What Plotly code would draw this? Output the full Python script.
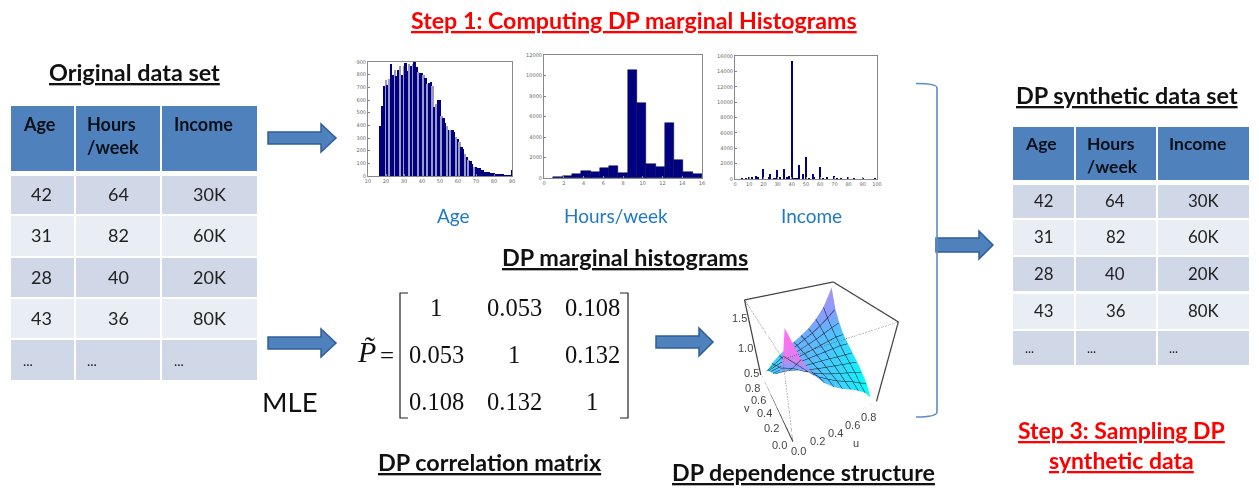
import plotly.graph_objects as go

W, H = 1259, 489

# ---- data ----
age_x = list(range(17, 91))
age_y = [395,550,710,755,720,765,885,800,840,790,835,870,800,865,895,830,885,870,885,900,
         860,825,810,815,800,775,725,735,740,710,545,570,600,600,475,460,415,395,360,365,
         365,345,310,295,265,230,210,170,150,130,115,95,75,70,65,65,50,45,35,30,
         30,25,22,22,18,14,10,8,8,5,4,3,3,45]
age_gap = [20,22,25,28,30,33,35,38,41,43,46,48,51,54,56,59,61,64,66,69]

hours_x = [1.43,2.37,3.31,4.25,5.19,6.13,7.07,8.01,8.95,9.89,10.83,11.77,12.71,13.65,14.59,15.53]
hours_y = [60,150,350,680,540,980,1180,450,10500,7300,1380,1080,5350,1750,600,430]

income_x = [5,8,10,12,15,16,20,24,25,28,30,32,35,37,38,40,42,43,44,45,48,50,52,55,56,60,62,65,70,72,75,80,84,90,99]
income_y = [60,130,280,150,350,200,1300,200,650,80,1150,300,1350,250,450,15300,100,120,130,1850,600,2800,130,680,150,1500,80,300,350,50,60,170,40,50,40]

table_header = ["<b>Age</b>", "<b>Hours<br>/week</b>", "<b>Income</b>"]
table_rows = [["42","64","30K"],["31","82","60K"],["28","40","20K"],["43","36","80K"],["...","...","..."]]

matrix = [["1","0.053","0.108"],["0.053","1","0.132"],["0.108","0.132","1"]]

surf_u = [0.05,0.15,0.25,0.35,0.45,0.55,0.65,0.75,0.85,0.95]
surf_v = [0.05,0.15,0.25,0.35,0.45,0.55,0.65,0.75,0.85,0.95]
surf_z = [
 [2.00,1.62,1.36,1.18,1.05,0.95,0.87,0.78,0.67,0.50],
 [1.62,1.46,1.30,1.16,1.06,0.97,0.90,0.83,0.74,0.67],
 [1.36,1.30,1.20,1.11,1.04,0.98,0.93,0.88,0.83,0.78],
 [1.18,1.16,1.11,1.06,1.02,0.99,0.96,0.93,0.90,0.87],
 [1.05,1.06,1.04,1.02,1.01,1.00,0.99,0.97,0.96,0.95],
 [0.95,0.97,0.98,0.99,1.00,1.01,1.02,1.03,1.04,1.03],
 [0.87,0.90,0.93,0.96,0.99,1.02,1.05,1.08,1.11,1.12],
 [0.78,0.83,0.88,0.93,0.98,1.03,1.08,1.14,1.20,1.25],
 [0.67,0.74,0.83,0.90,0.97,1.04,1.11,1.20,1.30,1.42],
 [0.50,0.67,0.78,0.87,0.95,1.03,1.12,1.25,1.42,1.70]]
surf_c = [
 [1.00,0.98,0.55,0.36,0.28,0.22,0.18,0.12,0.05,0.00],
 [0.98,0.70,0.42,0.34,0.28,0.24,0.20,0.14,0.08,0.03],
 [0.55,0.42,0.38,0.34,0.30,0.26,0.22,0.16,0.10,0.05],
 [0.35,0.36,0.36,0.36,0.32,0.28,0.24,0.20,0.14,0.10],
 [0.30,0.34,0.36,0.36,0.34,0.30,0.28,0.24,0.20,0.16],
 [0.28,0.32,0.36,0.38,0.36,0.34,0.32,0.28,0.24,0.20],
 [0.25,0.30,0.36,0.38,0.38,0.36,0.34,0.32,0.30,0.28],
 [0.20,0.28,0.34,0.38,0.40,0.38,0.36,0.36,0.38,0.40],
 [0.15,0.22,0.30,0.36,0.40,0.42,0.42,0.44,0.50,0.55],
 [0.10,0.18,0.26,0.34,0.40,0.44,0.46,0.52,0.62,0.72]]

# ---- style ----
SANS = "Lato, 'Open Sans', sans-serif"
SERIF = "'Liberation Serif', serif"
HEAD, ODD, EVEN = "#4F81BD", "#D0D8E8", "#E9EDF4"
NAVY = "#000080"
GAP = "#9A9AC4"
ARROW, ARROW_EDGE = "#4F81BD", "#2F5F97"

def px(x): return x / W
def py(y): return 1 - y / H

fig = go.Figure()
shapes, annos = [], []

def txt(x, y, s, size, color="#111", family=SANS, **kw):
    annos.append(dict(x=px(x), y=py(y - 1), xref="paper", yref="paper", text=s, showarrow=False,
                      font=dict(size=size, color=color, family=family), xanchor=kw.pop("xanchor","center"),
                      yanchor=kw.pop("yanchor","middle"), **kw))

def rect(x0, y0, x1, y1, fill):
    shapes.append(dict(type="rect", xref="paper", yref="paper", x0=px(x0), x1=px(x1), y0=py(y1), y1=py(y0),
                       fillcolor=fill, line=dict(width=0), layer="below"))

def table(col_edges, head_y, row_edges, head_text_x, head_text_top, cell_x, hsize, csize):
    for c, (a, b) in enumerate(col_edges):
        rect(a, head_y[0], b, head_y[1], HEAD)
        txt(head_text_x[c], head_text_top, table_header[c], hsize, "#0a1018", xanchor="left", align="left", yanchor="top")
        for r, (t, bt) in enumerate(row_edges):
            rect(a, t, b, bt, ODD if r % 2 == 0 else EVEN)
            s = table_rows[r][c]
            if s == "...":
                txt(head_text_x[c], (t + bt) / 2 + 1, s, csize - 4, "#222", xanchor="left")
            else:
                txt(cell_x[c], (t + bt) / 2, s, csize, "#222")

table([(11,74),(76,160),(162,257)], (106,171),
      [(176,214),(216,256),(258,297),(299,338),(340,380)],
      [21,85,172], 112, [42,118,209], 18, 18)
table([(1013,1074),(1076,1156),(1158,1249)], (127,180),
      [(185,218),(220,255),(257,291),(294,329),(331,365)],
      [1023,1085,1167], 132, [1043,1115,1203], 17.5, 16.8)

def arrow(x0, x1, xh, yc, hb, hh):
    path = (f"M {px(x0)} {py(yc-hb)} L {px(xh)} {py(yc-hb)} L {px(xh)} {py(yc-hh)} L {px(x1)} {py(yc)} "
            f"L {px(xh)} {py(yc+hh)} L {px(xh)} {py(yc+hb)} L {px(x0)} {py(yc+hb)} Z")
    shapes.append(dict(type="path", xref="paper", yref="paper", path=path, fillcolor=ARROW,
                       line=dict(color=ARROW_EDGE, width=1.5)))

arrow(268, 336, 321, 138, 6, 14)
arrow(268, 336, 321, 343, 6, 14)
arrow(656, 713, 699, 342, 6, 14)
arrow(936, 993, 979, 245, 7, 14)

# brace
shapes.append(dict(type="path", xref="paper", yref="paper",
    path=(f"M {px(916)} {py(83.5)} Q {px(937)} {py(83.5)} {px(937)} {py(88)} L {px(937)} {py(412)} "
          f"Q {px(937)} {py(417)} {px(916)} {py(417)}"),
    line=dict(color="#5B8EC9", width=1.6)))

# titles
U = lambda s: f"<b><u>{s}</u></b>"
txt(634, 21, U("Step 1: Computing DP marginal Histograms"), 23.2, "#FF0000")
txt(134, 73, U("Original data set"), 23.4, "#111")
txt(1127, 96, U("DP synthetic data set"), 23.4, "#111")
txt(625, 258, U("DP marginal histograms"), 23.4, "#111")
txt(490, 463, U("DP correlation matrix"), 23.4, "#111")
txt(803, 473, U("DP dependence structure"), 23.2, "#111")
txt(1121, 431, U("Step 3: Sampling DP"), 23, "#FF0000")
txt(1121, 461, U("synthetic data"), 23, "#FF0000")
txt(290, 402, "MLE", 27.5, "#111")
for x, s in [(453,"Age"),(616,"Hours/week"),(811,"Income")]:
    txt(x, 216, s, 19, "#1F78C8")

# matrix
mx = [436, 514, 592]
my = [308, 355, 402]
for r in range(3):
    for c in range(3):
        txt(mx[c], my[r], matrix[r][c], 24.5, "#111", SERIF)
txt(366, 352, "<i>P\u0303</i>", 30, "#111", SERIF)
txt(387, 356, "=", 25, "#111", SERIF)
for xo, xt in [(400, 408), (628, 620)]:
    shapes.append(dict(type="path", xref="paper", yref="paper",
        path=f"M {px(xt)} {py(293)} L {px(xo)} {py(293)} L {px(xo)} {py(418)} L {px(xt)} {py(418)}",
        line=dict(color="#222", width=1.2)))

# histograms
HIST_FONT = dict(size=5, color="#666", family="'DejaVu Sans', sans-serif")
def hist_axes(n, box, xr, xt, yr, yt):
    l, t, r, b = box
    common = dict(showgrid=False, zeroline=False, showline=True, mirror=True, linecolor="#888", linewidth=1,
                  ticks="inside", ticklen=2, tickcolor="#888", tickfont=HIST_FONT, tickformat="d")
    ax = dict(anchor=f"y{n}", domain=[px(l), px(r)], range=xr, tickvals=xt, **common)
    ay = dict(anchor=f"x{n}", domain=[py(b), py(t)], range=yr, tickvals=yt, **common)
    return ax, ay

layout_axes = {}
for n, box, xr, xt, yr, yt in [
    (1, (368,62,512,176), [10,90], list(range(10,91,10)), [0,900], list(range(0,901,100))),
    (2, (544,55,702,178), [0,16], list(range(0,17,2)), [0,12000], list(range(0,12001,2000))),
    (3, (735,56,877,179), [0,100], list(range(0,101,10)), [0,16000], list(range(0,16001,2000)))]:
    ax, ay = hist_axes(n, box, xr, xt, yr, yt)
    layout_axes[f"xaxis{n if n>1 else ''}"] = ax
    layout_axes[f"yaxis{n if n>1 else ''}"] = ay

fig.add_bar(x=age_x, y=age_y, xaxis="x", yaxis="y", width=1.0,
            marker=dict(color=[GAP if a in age_gap else NAVY for a in age_x], line=dict(width=0)))
fig.add_bar(x=hours_x, y=hours_y, xaxis="x2", yaxis="y2", width=0.94, marker=dict(color=NAVY, line=dict(width=0.5, color="#000040")))
fig.add_bar(x=income_x, y=income_y, xaxis="x3", yaxis="y3", width=1.1, marker=dict(color=NAVY, line=dict(width=0)))

# 3D surface
fig.add_surface(x=surf_u, y=surf_v, z=surf_z, surfacecolor=surf_c, cmin=0, cmax=1, showscale=False, scene="scene",
    colorscale=[[0,"#00FFFF"],[0.5,"#80A0FF"],[0.75,"#B090F0"],[1,"#FF70F0"]],
    lighting=dict(ambient=1, diffuse=0, specular=0, fresnel=0),
    contours=dict(x=dict(show=True, start=0.05, end=0.95, size=0.1, color="#111", width=1),
                  y=dict(show=True, start=0.05, end=0.95, size=0.1, color="#111", width=1)))
Z0, Z1, ZMAX = 0.45, 1.75, 2.05
ZL = 0.47
solid_u = [0,1,1,1,0,0,0,1]
solid_v = [1,1,0,0,0,1,1,1]
solid_z = [Z1,Z1,Z1,Z0,Z0,Z0,Z1,Z1]
dot_u = [0,0,1,None,0,0]
dot_v = [1,0,0,None,0,0]
dot_z = [Z1,Z1,Z1,None,Z1,Z0]
fig.add_scatter3d(x=solid_u, y=solid_v, z=solid_z, mode="lines", line=dict(color="#444", width=2.5), scene="scene", showlegend=False)
fig.add_scatter3d(x=dot_u, y=dot_v, z=dot_z, mode="lines", line=dict(color="#555", width=1.5, dash="dot"), scene="scene", showlegend=False)

def s_anno(x, y, z, s, dx, dy):
    return dict(x=x, y=y, z=z, text=s, showarrow=False, xshift=dx, yshift=dy,
                font=dict(size=11, color="#444", family="Liberation Sans, sans-serif"))
s_annos = []
for t in ["0.0","0.2","0.4","0.6","0.8"]:
    s_annos.append(s_anno(float(t), 0, ZL, t, 6, -10))
    s_annos.append(s_anno(0, float(t), ZL, t, -13, -4))
for t in ["0.5","1.0","1.5"]:
    s_annos.append(s_anno(0, 1, float(t), t, -9, 0))
s_annos.append(s_anno(0.5, 0, ZL, "u", 18, -24))
s_annos.append(s_anno(0, 0.5, ZL, "v", -27, -6))

ZSPAN = ZMAX - Z0
ZASPECT = ZSPAN / (Z1 - Z0)

quiet = dict(visible=True, showgrid=False, zeroline=False, showticklabels=False, showspikes=False,
             showbackground=False, showline=False, ticks="", title=dict(text=""))
fig.update_layout(
    width=W, height=H, margin=dict(l=0, r=0, t=0, b=0, autoexpand=False), paper_bgcolor="white", plot_bgcolor="white",
    showlegend=False, barmode="overlay", bargap=0, shapes=shapes, annotations=annos,
    scene=dict(domain=dict(x=[px(695), px(935)], y=[py(444), py(264)]),
               bgcolor="rgba(0,0,0,0)",
               xaxis=dict(range=[0,1], **quiet), yaxis=dict(range=[0,1], **quiet),
               zaxis=dict(range=[Z0,ZMAX], **quiet),
               aspectmode="manual", aspectratio=dict(x=1,y=1,z=ZASPECT),
               camera=dict(eye=dict(x=-0.82,y=-1.54,z=1.40-0.115), up=dict(x=0,y=0,z=1),
                           center=dict(x=0,y=0,z=-0.115)),
               annotations=s_annos),
    **layout_axes)

fig.write_html("out.html", config=dict(displayModeBar=False),
               post_script="document.body.style.margin='0';document.body.style.overflow='hidden';")
